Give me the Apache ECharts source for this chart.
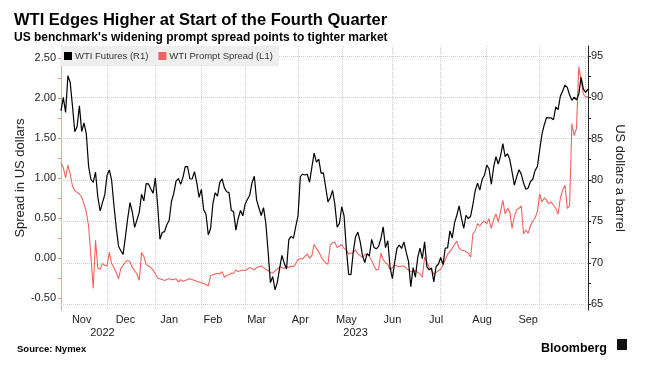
<!DOCTYPE html>
<html>
<head>
<meta charset="utf-8">
<script src="https://cdn.jsdelivr.net/npm/echarts@6/dist/echarts.min.js"></script>
<style>
html,body{margin:0;padding:0;background:#fff;}
#chart{width:656px;height:367px;}
</style>
</head>
<body>
<div id="chart"></div>
<script>
// ---- Data ----
const monthKeys = ['2022-11','2022-12','2023-01','2023-02','2023-03','2023-04','2023-05','2023-06','2023-07','2023-08','2023-09','2023-10'];
const monthTradingDays = [
  [1,2,3,4,7,8,9,10,11,14,15,16,17,18,21,22,23,25,28,29,30],
  [1,2,5,6,7,8,9,12,13,14,15,16,19,20,21,22,23,27,28,29,30],
  [3,4,5,6,9,10,11,12,13,17,18,19,20,23,24,25,26,27,30,31],
  [1,2,3,6,7,8,9,10,13,14,15,16,17,21,22,23,24,27,28],
  [1,2,3,6,7,8,9,10,13,14,15,16,17,20,21,22,23,24,27,28,29,30,31],
  [3,4,5,6,10,11,12,13,14,17,18,19,20,21,24,25,26,27,28],
  [1,2,3,4,5,8,9,10,11,12,15,16,17,18,19,22,23,24,25,26,30,31],
  [1,2,5,6,7,8,9,12,13,14,15,16,20,21,22,23,26,27,28,29,30],
  [3,5,6,7,10,11,12,13,14,17,18,19,20,21,24,25,26,27,28,31],
  [1,2,3,4,7,8,9,10,11,14,15,16,17,18,21,22,23,24,25,28,29,30,31],
  [1,5,6,7,8,11,12,13,14,15,18,19,20,21,22,25,26,27,28,29],
  [2]
];

// WTI Futures (R1), US dollars a barrel
const wtiFutures = [
  88.37,90.00,88.17,92.61,91.79,88.91,85.83,86.47,88.96,85.87,86.92,85.59,81.64,80.08,79.73,80.95,77.94,76.28,77.24,78.20,80.55,
  81.22,79.98,76.93,74.25,72.01,71.46,71.02,73.17,75.39,77.28,76.11,74.29,75.19,76.09,78.29,77.49,79.56,79.53,78.96,78.40,80.26,
  76.93,72.84,73.67,73.77,74.63,75.12,77.41,78.39,79.86,80.18,79.48,80.33,81.64,81.62,80.13,80.15,81.01,79.68,77.90,78.87,
  76.41,75.88,73.39,74.11,77.14,78.47,78.06,79.72,80.14,79.06,78.59,78.49,76.34,76.16,73.95,75.39,76.32,75.68,77.05,
  77.69,78.16,79.68,80.46,77.58,76.66,75.72,76.68,74.80,71.33,67.61,68.35,66.74,67.64,69.33,70.90,69.96,69.26,72.81,73.20,72.97,74.37,75.67,
  80.42,80.71,80.61,80.70,79.74,81.53,83.26,82.16,82.52,80.83,80.86,79.16,77.37,77.87,78.76,77.07,74.30,74.76,76.78,
  75.66,71.66,68.60,68.56,71.34,73.16,73.71,72.56,70.87,70.04,71.11,70.86,72.83,71.86,71.69,71.99,72.91,74.34,71.83,72.67,69.46,68.09,
  70.10,71.74,72.15,71.74,72.53,71.29,70.17,67.12,69.42,68.27,70.62,71.78,70.50,72.53,69.51,69.16,69.37,67.70,69.56,69.86,70.64,
  69.79,71.79,71.80,73.86,72.99,74.83,75.75,76.89,75.42,74.15,75.75,75.35,75.63,77.07,78.74,79.63,78.78,80.09,80.58,81.80,
  81.37,79.49,81.55,82.82,81.94,82.92,84.40,82.82,83.19,82.51,80.99,79.38,80.39,81.25,80.72,79.64,78.89,79.05,79.83,80.10,81.16,81.63,83.63,
  85.55,86.69,87.54,87.51,87.51,87.29,88.84,88.52,90.16,90.77,91.48,91.20,90.28,89.63,90.03,89.68,90.39,92.40,91.00,90.60,
  91.00
];

// WTI Prompt Spread (L1), US dollars
const promptSpread = [
  1.19,1.13,1.00,1.16,1.05,0.90,0.84,0.82,0.80,0.76,0.68,0.57,0.40,0.02,-0.38,0.22,-0.13,-0.14,-0.07,-0.09,-0.10,
  0.07,-0.07,-0.12,-0.18,-0.26,-0.13,-0.09,-0.05,-0.03,-0.05,-0.12,-0.16,-0.20,-0.28,0.07,0.02,-0.08,-0.10,-0.12,-0.15,-0.20,
  -0.25,-0.26,-0.27,-0.28,-0.27,-0.26,-0.27,-0.27,-0.26,-0.30,-0.27,-0.29,-0.28,-0.27,-0.26,-0.27,-0.28,-0.29,-0.30,-0.31,
  -0.32,-0.33,-0.35,-0.22,-0.21,-0.20,-0.19,-0.20,-0.17,-0.24,-0.22,-0.21,-0.19,-0.19,-0.15,-0.17,-0.16,-0.15,-0.16,
  -0.14,-0.12,-0.13,-0.15,-0.12,-0.11,-0.10,-0.12,-0.14,-0.16,-0.18,-0.19,-0.16,-0.14,-0.11,-0.12,-0.13,-0.11,-0.12,-0.10,-0.11,-0.07,-0.02,
  -0.01,-0.01,0.02,0.05,0.00,0.03,0.17,0.12,0.08,0.02,-0.03,-0.06,-0.08,0.16,0.19,0.20,0.13,0.15,0.17,
  0.12,0.10,0.05,0.06,0.07,0.10,0.05,0.03,0.01,0.04,0.05,0.02,-0.03,-0.10,-0.15,-0.14,0.06,-0.02,-0.06,-0.08,-0.15,-0.12,
  -0.09,-0.10,-0.11,-0.10,-0.10,-0.13,-0.15,-0.17,-0.17,-0.16,-0.18,-0.20,-0.24,0.01,-0.05,-0.12,-0.15,-0.20,-0.18,-0.16,-0.14,
  -0.09,-0.02,0.05,0.08,0.12,0.17,0.21,0.12,0.10,0.09,0.08,0.06,0.01,0.30,0.34,0.43,0.40,0.44,0.46,0.43,
  0.49,0.37,0.48,0.55,0.45,0.58,0.72,0.55,0.62,0.58,0.37,0.52,0.60,0.62,0.65,0.30,0.35,0.31,0.40,0.46,0.50,0.58,0.80,
  0.70,0.75,0.72,0.68,0.70,0.66,0.62,0.55,0.75,0.85,0.91,0.62,0.65,1.68,1.53,1.62,2.39,2.22,2.05,2.01,
  2.02
];

// Tick labels
const monthLabels = ['Nov','Dec','Jan','Feb','Mar','Apr','May','Jun','Jul','Aug','Sep'];
const monthLabelIndex = [9,28,47,66,85,104,124,144,163,183,203];
const yearLabels = ['2022','2023'];
const yearLabelIndex = [18,128];
const monthGridIndex = [20,41,61,80,103,122,144,165,185,208,228];
const leftTicks = [-0.5,0,0.5,1,1.5,2,2.5];
const rightTicks = [65,70,75,80,85,90,95];

// ---- Build ----
const categories = [];
monthKeys.forEach((m, k) => monthTradingDays[k].forEach(d => categories.push(m + '-' + String(d).padStart(2,'0'))));

const leftMinor = [];
for (let i = 0; i < leftTicks.length; i++) { leftMinor.push(leftTicks[i]); if (i < leftTicks.length-1) leftMinor.push((leftTicks[i]+leftTicks[i+1])/2); }
const rightMinor = [];
for (let i = 0; i < rightTicks.length; i++) { rightMinor.push(rightTicks[i]); if (i < rightTicks.length-1) rightMinor.push((rightTicks[i]+rightTicks[i+1])/2); }

const FONT = "'Liberation Sans', Arial, sans-serif";
const RED = '#f2625d';
const chart = echarts.init(document.getElementById('chart'), null, {renderer:'canvas'});
chart.setOption({
  animation: false,
  backgroundColor: '#ffffff',
  title: [
    {text: 'WTI Edges Higher at Start of the Fourth Quarter', left: 9, top: 7,
     textStyle: {fontFamily: FONT, fontWeight: 'bold', fontSize: 16.5, color: '#000'}},
    {text: "US benchmark's widening prompt spread points to tighter market", left: 9, top: 27,
     textStyle: {fontFamily: FONT, fontWeight: 'bold', fontSize: 12, color: '#000'}},
    {text: 'Source: Nymex', left: 12, top: 339,
     textStyle: {fontFamily: FONT, fontWeight: 'bold', fontSize: 9.5, color: '#000'}},
    {text: 'Bloomberg', right: 44, top: 337,
     textStyle: {fontFamily: FONT, fontWeight: 'bold', fontSize: 12.5, color: '#000'}}
  ],
  graphic: [
    {type: 'rect', shape: {x: 617, y: 339, width: 10, height: 11}, style: {fill: '#111'}}
  ],
  legend: {
    left: 61, top: 46, padding: [5, 6, 5, 3], itemGap: 10, z: 50, zlevel: 0,
    backgroundColor: '#eeeeee', icon: 'rect', itemWidth: 8, itemHeight: 8,
    itemStyle: {borderWidth: 0},
    textStyle: {fontFamily: FONT, fontSize: 9.5, color: '#333', padding: [0,0,0,-2]},
    data: [
      {name: 'WTI Futures (R1)', icon: 'rect', itemStyle: {color: '#000', borderWidth: 0}},
      {name: 'WTI Prompt Spread (L1)', icon: 'rect', itemStyle: {color: RED, borderWidth: 0}}
    ]
  },
  grid: {left: 61, right: 68, top: 46, bottom: 57},
  xAxis: [
    {type: 'category', data: categories, boundaryGap: false,
     axisLine: {show: false}, axisTick: {show: false},
     axisLabel: {interval: (i) => monthLabelIndex.includes(i),
       formatter: (v, i) => monthLabels[monthLabelIndex.indexOf(i)],
       fontFamily: FONT, fontSize: 11, color: '#222', margin: 4},
     splitLine: {show: true, interval: (i) => monthGridIndex.includes(i),
       lineStyle: {color: '#cfcfcf', type: 'dotted', width: 1}}},
    {type: 'category', data: categories, boundaryGap: false, position: 'bottom', offset: 13,
     axisLine: {show: false}, axisTick: {show: false}, splitLine: {show: false},
     axisLabel: {interval: (i) => yearLabelIndex.includes(i),
       formatter: (v, i) => yearLabels[yearLabelIndex.indexOf(i)],
       fontFamily: FONT, fontSize: 11, color: '#222', margin: 4}}
  ],
  yAxis: [
    {type: 'value', position: 'left', min: -0.65, max: 2.65,
     name: 'Spread in US dollars', nameLocation: 'middle', nameGap: 34, nameMoveOverlap: false,
     nameTextStyle: {fontFamily: FONT, fontSize: 13, color: '#222'},
     axisLine: {show: true, lineStyle: {color: '#f5a3a0', width: 1}},
     axisTick: {show: true, customValues: leftMinor, length: 3, lineStyle: {color: '#f08d89'}},
     axisLabel: {customValues: leftTicks, formatter: (v) => v.toFixed(2), fontFamily: FONT, fontSize: 11, color: '#222', margin: 5},
     splitLine: {show: false}},
    {type: 'value', position: 'right', min: 64.3, max: 96.2,
     name: 'US dollars a barrel', nameLocation: 'middle', nameGap: 25, nameRotate: -90, nameMoveOverlap: false,
     nameTextStyle: {fontFamily: FONT, fontSize: 13, color: '#222'},
     axisLine: {show: true, lineStyle: {color: '#222', width: 1}},
     axisTick: {show: true, customValues: rightMinor, length: 3, lineStyle: {color: '#222'}},
     axisLabel: {customValues: rightTicks, fontFamily: FONT, fontSize: 11, color: '#222', margin: 3},
     splitLine: {show: false}}
  ],
  series: [
    {name: 'WTI Futures (R1)', type: 'line', yAxisIndex: 1, data: wtiFutures,
     showSymbol: false, symbol: 'none', z: 3,
     lineStyle: {color: '#000', width: 1.2}, itemStyle: {color: '#000'},
     markLine: {silent: true, symbol: 'none', label: {show: false}, z: 1,
       lineStyle: {color: '#cfcfcf', type: 'dotted', width: 1},
       data: rightTicks.map(v => ({yAxis: v}))}},
    {name: 'WTI Prompt Spread (L1)', type: 'line', yAxisIndex: 0, data: promptSpread,
     showSymbol: false, symbol: 'none', z: 2,
     lineStyle: {color: RED, width: 1.1}, itemStyle: {color: RED}}
  ]
});
</script>
</body>
</html>
